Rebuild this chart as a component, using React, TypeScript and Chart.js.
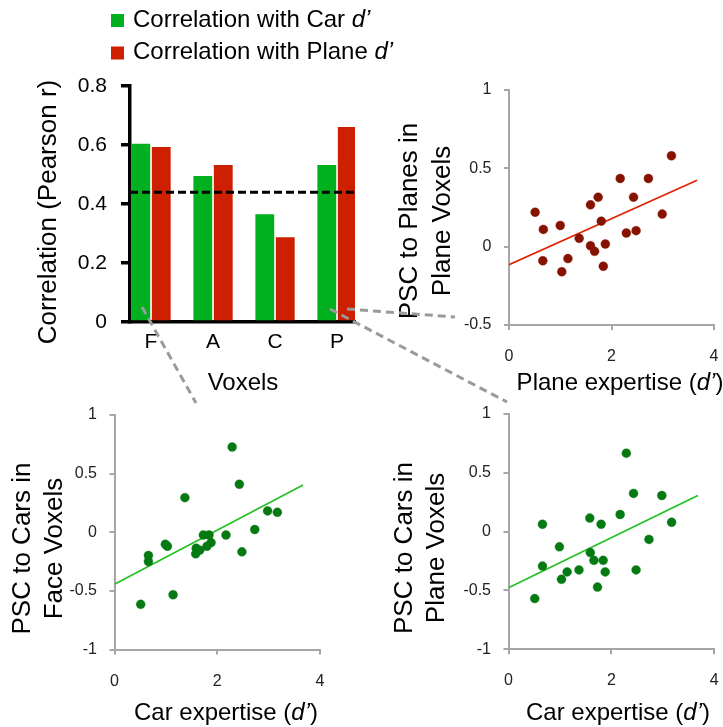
import React, { useEffect, useRef } from 'react';
import { Chart, registerables } from 'chart.js';

Chart.register(...registerables);

// ---------------- data ----------------
const voxelCategories = ['F', 'A', 'C', 'P'];
const carCorrelation = [0.604, 0.495, 0.365, 0.532];
const planeCorrelation = [0.593, 0.532, 0.287, 0.661];
const significanceThreshold = 0.44;
const barYTickValues = [0, 0.2, 0.4, 0.6, 0.8];
const barYTickLabels = ['0', '0.2', '0.4', '0.6', '0.8'];
const seriesLabels = ['Correlation with Car ', 'Correlation with Plane '];
const seriesLabelSuffix = 'd\u2019';

const planeExpertise = [0.51, 0.67, 0.66, 1.0, 1.03, 1.15, 1.37, 1.59, 1.59, 1.67, 1.74, 1.8, 1.84, 1.88, 2.17, 2.29, 2.43, 2.48, 2.72, 2.99, 3.17];
const pscPlanesInPlaneVoxels = [0.22, 0.11, -0.09, 0.135, -0.16, -0.076, 0.053, 0.267, 0.006, -0.03, 0.316, 0.163, -0.125, 0.017, 0.435, 0.087, 0.316, 0.102, 0.435, 0.208, 0.58];
const planeFitX = [0, 3.67];
const planeFitY = [-0.115, 0.424];

const carExpertise = [0.51, 0.66, 0.66, 0.99, 1.03, 1.14, 1.37, 1.58, 1.59, 1.66, 1.73, 1.8, 1.84, 1.88, 2.17, 2.29, 2.43, 2.48, 2.73, 2.98, 3.17];
const pscCarsInFaceVoxels = [-0.615, -0.198, -0.249, -0.102, -0.119, -0.533, 0.295, -0.184, -0.136, -0.153, -0.023, -0.119, -0.023, -0.088, -0.023, 0.727, 0.409, -0.167, 0.023, 0.182, 0.17];
const faceFitX = [0, 3.67];
const faceFitY = [-0.443, 0.403];
const pscCarsInPlaneVoxels = [-0.569, 0.063, -0.293, -0.129, -0.405, -0.342, -0.325, 0.115, -0.178, -0.244, -0.471, 0.063, -0.244, -0.342, 0.146, 0.667, 0.325, -0.325, -0.066, 0.307, 0.08];
const carPlaneFitX = [0, 3.68];
const carPlaneFitY = [-0.477, 0.307];

const yTicksTopRight = [-0.5, 0, 0.5, 1];
const yTickLabelsTopRight = ['-0.5', '0', '0.5', '1'];
const yTicksBottom = [-1, -0.5, 0, 0.5, 1];
const yTickLabelsBottom = ['-1', '-0.5', '0', '0.5', '1'];
const expertiseTicks = [0, 2, 4];
const expertiseTickLabels = ['0', '2', '4'];

// ---------------- styles ----------------
const FONT = '"Liberation Sans", Arial, sans-serif';
const GREEN_BAR = '#00b01f';
const RED_BAR = '#cc2000';
const RED_POINT = '#861300';
const GREEN_POINT = '#067a12';
const RED_LINE = '#e02200';
const GREEN_LINE = '#22c022';
const AXIS_GREY = '#a6a6a6';

type Run = { text: string; italic?: boolean };
type TextItem = { runs: Run[]; x: number; y: number; size: number; rotate?: boolean; align?: 'left' | 'center' };

function drawRuns(ctx: CanvasRenderingContext2D, item: TextItem) {
  ctx.save();
  ctx.fillStyle = '#000';
  ctx.textBaseline = 'middle';
  ctx.textAlign = 'left';
  const fontFor = (r: Run) => `${r.italic ? 'italic ' : ''}${item.size}px ${FONT}`;
  let total = 0;
  const widths = item.runs.map((r) => {
    ctx.font = fontFor(r);
    const w = ctx.measureText(r.text).width;
    total += w;
    return w;
  });
  ctx.translate(item.x, item.y);
  if (item.rotate) ctx.rotate(-Math.PI / 2);
  let cx = item.align === 'left' ? 0 : -total / 2;
  item.runs.forEach((r, i) => {
    ctx.font = fontFor(r);
    ctx.fillText(r.text, cx, 0);
    cx += widths[i];
  });
  ctx.restore();
}

function textPlugin(items: TextItem[], legend?: boolean) {
  return {
    id: 'figText',
    afterDraw(chart: any) {
      const ctx = chart.ctx as CanvasRenderingContext2D;
      items.forEach((it) => drawRuns(ctx, it));
      if (legend) {
        const colors = [GREEN_BAR, RED_BAR];
        seriesLabels.forEach((lab, i) => {
          ctx.save();
          ctx.fillStyle = colors[i];
          ctx.fillRect(111, 14 + 32.5 * i, 13, 13);
          ctx.restore();
          drawRuns(ctx, {
            runs: [{ text: lab }, { text: seriesLabelSuffix, italic: true }],
            x: 133,
            y: 20 + 32.5 * i,
            size: 24,
            align: 'left',
          });
        });
      }
    },
  };
}

function fixedTicks(values: number[]) {
  return (scale: any) => {
    scale.ticks = values.map((v) => ({ value: v }));
  };
}

// ---------------- bar chart ----------------
const BAR_X_MIN = -0.339;
const BAR_X_MAX = 3.29;

function barConfig(): any {
  return {
    type: 'bar',
    data: {
      datasets: [
        {
          type: 'bar',
          label: seriesLabels[0] + seriesLabelSuffix,
          data: carCorrelation.map((v, i) => ({ x: i, y: v })),
          backgroundColor: GREEN_BAR,
          borderWidth: 0,
          categoryPercentage: 0.66,
          barPercentage: 0.92,
          order: 2,
        },
        {
          type: 'bar',
          label: seriesLabels[1] + seriesLabelSuffix,
          data: planeCorrelation.map((v, i) => ({ x: i, y: v })),
          backgroundColor: RED_BAR,
          borderWidth: 0,
          categoryPercentage: 0.66,
          barPercentage: 0.92,
          order: 2,
        },
        {
          type: 'line',
          label: 'threshold',
          data: [
            { x: BAR_X_MIN, y: significanceThreshold },
            { x: BAR_X_MAX, y: significanceThreshold },
          ],
          borderColor: '#000',
          borderWidth: 3,
          borderDash: [8, 4],
          pointRadius: 0,
          fill: false,
          order: 0,
        },
      ],
    },
    options: {
      responsive: false,
      animation: false,
      devicePixelRatio: 1,
      layout: { padding: { top: 86, right: 45, left: 0, bottom: 0 } },
      plugins: { legend: { display: false }, tooltip: { enabled: false } },
      scales: {
        x: {
          type: 'linear',
          min: BAR_X_MIN,
          max: BAR_X_MAX,
          offset: false,
          z: 1,
          afterBuildTicks: fixedTicks(voxelCategories.map((_, i) => i)),
          ticks: {
            callback: (_v: any, i: number) => voxelCategories[i],
            font: { family: FONT, size: 21 },
            color: '#000',
            padding: 8,
            autoSkip: false,
            maxRotation: 0,
          },
          grid: { display: false, drawTicks: false },
          border: { display: true, color: '#000', width: 3.5 },
          afterFit: (s: any) => {
            s.height = 78;
            s.paddingLeft = 0;
            s.paddingRight = 0;
          },
        },
        y: {
          type: 'linear',
          min: 0,
          max: 0.8,
          z: 1,
          afterBuildTicks: fixedTicks(barYTickValues),
          ticks: {
            callback: (_v: any, i: number) => barYTickLabels[i],
            font: { family: FONT, size: 21 },
            color: '#000',
            padding: 14,
          },
          grid: { display: true, drawOnChartArea: false, drawTicks: true, tickLength: 9, lineWidth: 3.5, color: '#000' },
          border: { display: true, color: '#000', width: 3.5 },
          afterFit: (s: any) => {
            s.width = 130;
            s.paddingTop = 0;
            s.paddingBottom = 0;
          },
        },
      },
    },
    plugins: [
      textPlugin(
        [
          { runs: [{ text: 'Correlation (Pearson r)' }], x: 49, y: 212, size: 26, rotate: true },
          { runs: [{ text: 'Voxels' }], x: 243, y: 383, size: 24 },
        ],
        true
      ),
    ],
  };
}

// ---------------- scatter charts ----------------
type ScatterSpec = {
  xs: number[];
  ys: number[];
  fitX: number[];
  fitY: number[];
  pointColor: string;
  lineColor: string;
  yTicks: number[];
  yTickLabels: string[];
  yWidth: number;
  xHeight: number;
  padTop: number;
  padRight: number;
  texts: TextItem[];
};

function scatterConfig(s: ScatterSpec): any {
  return {
    type: 'scatter',
    data: {
      datasets: [
        {
          type: 'scatter',
          label: 'subjects',
          data: s.xs.map((x, i) => ({ x, y: s.ys[i] })),
          pointRadius: 4.5,
          pointBackgroundColor: s.pointColor,
          pointBorderColor: s.pointColor + '55',
          pointBorderWidth: 1,
          order: 0,
        },
        {
          type: 'line',
          label: 'fit',
          data: s.fitX.map((x, i) => ({ x, y: s.fitY[i] })),
          borderColor: s.lineColor,
          borderWidth: 1.6,
          pointRadius: 0,
          fill: false,
          order: 1,
        },
      ],
    },
    options: {
      responsive: false,
      animation: false,
      devicePixelRatio: 1,
      layout: { padding: { top: s.padTop, right: s.padRight, left: 0, bottom: 0 } },
      plugins: { legend: { display: false }, tooltip: { enabled: false } },
      scales: {
        x: {
          type: 'linear',
          position: 'bottom',
          min: expertiseTicks[0],
          max: expertiseTicks[expertiseTicks.length - 1],
          afterBuildTicks: fixedTicks(expertiseTicks),
          ticks: {
            callback: (_v: any, i: number) => expertiseTickLabels[i],
            font: { family: FONT, size: 16 },
            color: '#222',
            padding: 17,
            autoSkip: false,
            maxRotation: 0,
          },
          grid: { display: true, drawOnChartArea: false, drawTicks: true, tickLength: 5, lineWidth: 2, color: AXIS_GREY },
          border: { display: true, color: AXIS_GREY, width: 2 },
          afterFit: (sc: any) => {
            sc.height = s.xHeight;
            sc.paddingLeft = 0;
            sc.paddingRight = 0;
          },
        },
        y: {
          type: 'linear',
          position: 'left',
          min: s.yTicks[0],
          max: s.yTicks[s.yTicks.length - 1],
          afterBuildTicks: fixedTicks(s.yTicks),
          ticks: {
            callback: (_v: any, i: number) => s.yTickLabels[i],
            font: { family: FONT, size: 16 },
            color: '#222',
            padding: 12.5,
          },
          grid: { display: true, drawOnChartArea: false, drawTicks: true, tickLength: 5, lineWidth: 2, color: AXIS_GREY },
          border: { display: true, color: AXIS_GREY, width: 2 },
          afterFit: (sc: any) => {
            sc.width = s.yWidth;
            sc.paddingTop = 0;
            sc.paddingBottom = 0;
          },
        },
      },
    },
    plugins: [textPlugin(s.texts)],
  };
}

function ChartCanvas(props: { left: number; top: number; width: number; height: number; make: () => any }) {
  const ref = useRef<HTMLCanvasElement | null>(null);
  useEffect(() => {
    const chart = new Chart(ref.current as HTMLCanvasElement, props.make());
    return () => chart.destroy();
  }, []);
  return (
    <canvas
      ref={ref}
      width={props.width}
      height={props.height}
      style={{ position: 'absolute', left: props.left, top: props.top, width: props.width, height: props.height }}
    />
  );
}

const topRightSpec: ScatterSpec = {
  xs: planeExpertise,
  ys: pscPlanesInPlaneVoxels,
  fitX: planeFitX,
  fitY: planeFitY,
  pointColor: RED_POINT,
  lineColor: RED_LINE,
  yTicks: yTicksTopRight,
  yTickLabels: yTickLabelsTopRight,
  yWidth: 124,
  xHeight: 75,
  padTop: 20,
  padRight: 9,
  texts: [
    { runs: [{ text: 'PSC to Planes in' }], x: 25, y: 151, size: 26, rotate: true },
    { runs: [{ text: 'Plane Voxels' }], x: 58, y: 151, size: 26, rotate: true },
    { runs: [{ text: 'Plane expertise (' }, { text: 'd\u2019', italic: true }, { text: ')' }], x: 235, y: 313, size: 24 },
  ],
};

const bottomLeftSpec: ScatterSpec = {
  xs: carExpertise,
  ys: pscCarsInFaceVoxels,
  fitX: faceFitX,
  fitY: faceFitY,
  pointColor: GREEN_POINT,
  lineColor: GREEN_LINE,
  yTicks: yTicksBottom,
  yTickLabels: yTickLabelsBottom,
  yWidth: 114.5,
  xHeight: 77.5,
  padTop: 15,
  padRight: 50,
  texts: [
    { runs: [{ text: 'PSC to Cars in' }], x: 23, y: 148.5, size: 26, rotate: true },
    { runs: [{ text: 'Face Voxels' }], x: 55, y: 148.5, size: 26, rotate: true },
    { runs: [{ text: 'Car expertise (' }, { text: 'd\u2019', italic: true }, { text: ')' }], x: 226, y: 313, size: 24 },
  ],
};

const bottomRightSpec: ScatterSpec = {
  xs: carExpertise,
  ys: pscCarsInPlaneVoxels,
  fitX: carPlaneFitX,
  fitY: carPlaneFitY,
  pointColor: GREEN_POINT,
  lineColor: GREEN_LINE,
  yTicks: yTicksBottom,
  yTickLabels: yTickLabelsBottom,
  yWidth: 128.5,
  xHeight: 77.7,
  padTop: 14,
  padRight: 8.7,
  texts: [
    { runs: [{ text: 'PSC to Cars in' }], x: 25, y: 148, size: 26, rotate: true },
    { runs: [{ text: 'Plane Voxels' }], x: 56.7, y: 148, size: 26, rotate: true },
    { runs: [{ text: 'Car expertise (' }, { text: 'd\u2019', italic: true }, { text: ')' }], x: 238, y: 313, size: 24 },
  ],
};

export default function App() {
  return (
    <div style={{ position: 'absolute', left: 0, top: 0, width: 723, height: 727, background: '#fff', overflow: 'hidden' }}>
      <ChartCanvas left={0} top={0} width={400} height={400} make={barConfig} />
      <ChartCanvas left={385} top={70} width={338} height={330} make={() => scatterConfig(topRightSpec)} />
      <ChartCanvas left={0} top={400} width={370} height={327} make={() => scatterConfig(bottomLeftSpec)} />
      <ChartCanvas left={380} top={400} width={343} height={327} make={() => scatterConfig(bottomRightSpec)} />
      <svg
        width={723}
        height={727}
        style={{ position: 'absolute', left: 0, top: 0, pointerEvents: 'none' }}
      >
        <g stroke="#9a9a9a" strokeWidth={3} strokeDasharray="8 5" fill="none">
          <line x1={142} y1={307} x2={196} y2={403} />
          <line x1={330} y1={309} x2={507} y2={402} />
          <line x1={347} y1={309} x2={455} y2={317} />
        </g>
      </svg>
    </div>
  );
}
